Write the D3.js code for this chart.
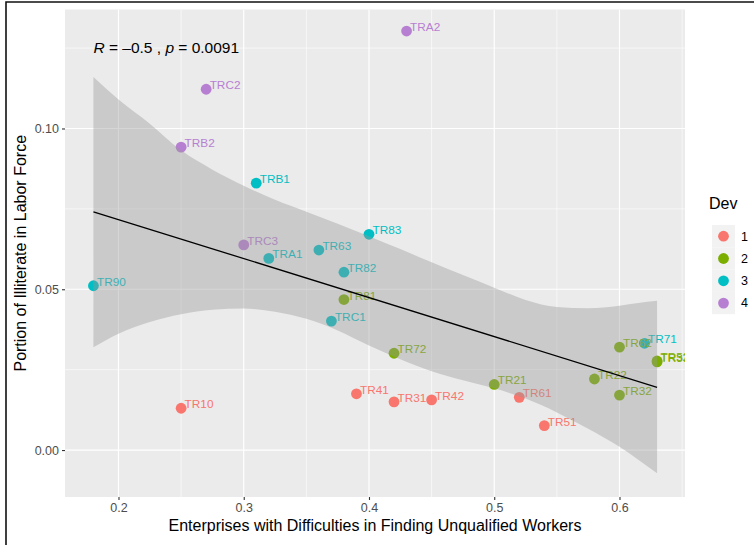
<!DOCTYPE html>
<html>
<head>
<meta charset="utf-8">
<script src="https://cdn.jsdelivr.net/npm/d3@7"></script>
<style>
  body { margin: 0; background: #fff; }
  svg { display: block; font-family: "Liberation Sans", Arial, Helvetica, sans-serif; }
</style>
</head>
<body>
<svg id="chart" width="754" height="545"></svg>
<script>
// ---------------- data ----------------
const regions = ["TR10","TR21","TR22","TR31","TR32","TR33","TR41","TR42","TR51","TR52","TR61","TR62","TR63",
                 "TR71","TR72","TR81","TR82","TR83","TR90","TRA1","TRA2","TRB1","TRB2","TRC1","TRC2","TRC3"];
const enterprisesDifficulty = [0.25,0.50,0.58,0.42,0.60,0.63,0.39,0.45,0.54,0.63,0.52,0.60,0.36,
                               0.62,0.42,0.38,0.38,0.40,0.18,0.32,0.43,0.31,0.25,0.37,0.27,0.30];
const illiterateShare = [0.0130,0.0204,0.0221,0.0150,0.0171,0.0274,0.0175,0.0156,0.0076,0.0277,0.0164,0.0320,0.0622,
                         0.0332,0.0301,0.0468,0.0553,0.0671,0.0511,0.0596,0.1303,0.0830,0.0942,0.0401,0.1122,0.0638];
const devGroup = ["1","2","2","1","2","2","1","1","1","2","1","2","3",
                  "3","2","2","3","3","3","3","4","3","4","3","4","4"];
const devLevels = ["1","2","3","4"];
const devColors = ["#F8766D","#7CAE00","#00BFC4","#B77FD2"];

const xTicks = [0.2,0.3,0.4,0.5,0.6];
const xMinorTicks = [0.25,0.35,0.45,0.55,0.65];
const yTicks = [0.00,0.05,0.10];
const yMinorTicks = [0.025,0.075,0.125];

// fitted regression line and its confidence band
const fitX = [0.18, 0.63];
const fitY = [0.0741, 0.0195];
const bandX     = [0.18, 0.20, 0.225, 0.25, 0.275, 0.30, 0.325, 0.35, 0.375, 0.40, 0.425, 0.45, 0.475, 0.50, 0.525, 0.55, 0.575, 0.60, 0.615, 0.63];
const bandUpper = [0.116, 0.1090, 0.1015, 0.0932, 0.0872, 0.0822, 0.0778, 0.0741, 0.0704, 0.0665, 0.0625, 0.0584, 0.0544, 0.0505, 0.0467, 0.0445, 0.0441, 0.0449, 0.0457, 0.0464];
const bandLower = [0.032, 0.0362, 0.0398, 0.0422, 0.0436, 0.0440, 0.0430, 0.0408, 0.0372, 0.0325, 0.0282, 0.0245, 0.0217, 0.0192, 0.0160, 0.0117, 0.0066, 0.0010, -0.0030, -0.0072];

const corLabel = { r: "\u20130.5", p: "0.0091", x: 0.18, y: 0.1252 };

const xTitle = "Enterprises with Difficulties in Finding Unqualified Workers";
const yTitle = "Portion of Illiterate in Labor Force";
const legendTitle = "Dev";

// ---------------- drawing ----------------
const svg = d3.select("#chart");
const panel = { left: 65, right: 685, top: 9.5, bottom: 497 };

const x = d3.scaleLinear().domain([0.1573, 0.6523]).range([panel.left, panel.right]);
const y = d3.scaleLinear().domain([-0.0146, 0.137]).range([panel.bottom, panel.top]);
const color = d3.scaleOrdinal().domain(devLevels).range(devColors);

svg.append("rect").attr("width", 754).attr("height", 545).attr("fill", "#fff");

// frame of the screenshot
svg.append("path").attr("d", "M6,545 V2 H754")
  .attr("fill", "none").attr("stroke", "#111").attr("stroke-width", 1.6);

svg.append("defs").append("clipPath").attr("id", "clip")
  .append("rect").attr("x", panel.left).attr("y", panel.top)
  .attr("width", panel.right - panel.left).attr("height", panel.bottom - panel.top);

svg.append("rect").attr("x", panel.left).attr("y", panel.top)
  .attr("width", panel.right - panel.left).attr("height", panel.bottom - panel.top)
  .attr("fill", "#EBEBEB");

const grid = svg.append("g").attr("clip-path", "url(#clip)");
grid.selectAll(".xmin").data(xMinorTicks).join("line")
  .attr("x1", d => x(d)).attr("x2", d => x(d)).attr("y1", panel.top).attr("y2", panel.bottom)
  .attr("stroke", "#fff").attr("stroke-width", 0.6);
grid.selectAll(".ymin").data(yMinorTicks).join("line")
  .attr("y1", d => y(d)).attr("y2", d => y(d)).attr("x1", panel.left).attr("x2", panel.right)
  .attr("stroke", "#fff").attr("stroke-width", 0.6);
grid.selectAll(".xmaj").data(xTicks).join("line")
  .attr("x1", d => x(d)).attr("x2", d => x(d)).attr("y1", panel.top).attr("y2", panel.bottom)
  .attr("stroke", "#fff").attr("stroke-width", 1.2);
grid.selectAll(".ymaj").data(yTicks).join("line")
  .attr("y1", d => y(d)).attr("y2", d => y(d)).attr("x1", panel.left).attr("x2", panel.right)
  .attr("stroke", "#fff").attr("stroke-width", 1.2);

// points and labels
const pts = regions.map((r, i) => ({ r, x: enterprisesDifficulty[i], y: illiterateShare[i], g: devGroup[i] }));
const plot = svg.append("g").attr("clip-path", "url(#clip)");
plot.selectAll("circle").data(pts).join("circle")
  .attr("cx", d => x(d.x)).attr("cy", d => y(d.y)).attr("r", 5.4)
  .attr("fill", d => color(d.g));
plot.selectAll("text").data(pts).join("text")
  .attr("x", d => x(d.x) + 3.5).attr("y", d => y(d.y))
  .attr("fill", d => color(d.g)).attr("font-size", 11.8)
  .text(d => d.r);

// smoothing band and fitted line (drawn over points, as in the original)
const band = bandX.map((v, i) => ({ x: v, lo: bandLower[i], hi: bandUpper[i] }));
plot.append("path").datum(band)
  .attr("d", d3.area().x(d => x(d.x)).y0(d => y(d.lo)).y1(d => y(d.hi)).curve(d3.curveMonotoneX))
  .attr("fill", "#999999").attr("fill-opacity", 0.4);
plot.append("path").datum(fitX.map((v, i) => [v, fitY[i]]))
  .attr("d", d3.line().x(d => x(d[0])).y(d => y(d[1])))
  .attr("stroke", "#000").attr("stroke-width", 1.3).attr("fill", "none");

// correlation annotation
const ann = svg.append("text").attr("x", x(corLabel.x)).attr("y", y(corLabel.y) + 5.5)
  .attr("font-size", 15.5).attr("fill", "#000");
ann.append("tspan").attr("font-style", "italic").text("R");
ann.append("tspan").text(" = " + corLabel.r + " , ");
ann.append("tspan").attr("font-style", "italic").text("p");
ann.append("tspan").text(" = " + corLabel.p);

// axes
const xAxis = svg.append("g").attr("transform", `translate(0,${panel.bottom})`)
  .call(d3.axisBottom(x).tickValues(xTicks).tickSize(3).tickPadding(3).tickFormat(d3.format(".1f")));
const yAxis = svg.append("g").attr("transform", `translate(${panel.left},0)`)
  .call(d3.axisLeft(y).tickValues(yTicks).tickSize(3).tickPadding(3).tickFormat(d3.format(".2f")));
[xAxis, yAxis].forEach(a => {
  a.select(".domain").remove();
  a.selectAll(".tick line").attr("stroke", "#333").attr("stroke-width", 1.1);
  a.selectAll(".tick text").attr("fill", "#4D4D4D").attr("font-size", 12.5)
    .attr("font-family", '"Liberation Sans", Arial, sans-serif');
});

svg.append("text").attr("x", (panel.left + panel.right) / 2).attr("y", 531)
  .attr("text-anchor", "middle").attr("font-size", 16).attr("fill", "#000").text(xTitle);
svg.append("text").attr("transform", `translate(26,${(panel.top + panel.bottom) / 2}) rotate(-90)`)
  .attr("text-anchor", "middle").attr("font-size", 16).attr("fill", "#000").text(yTitle);

// legend
const lg = svg.append("g");
lg.append("text").attr("x", 709).attr("y", 208.5).attr("font-size", 16).attr("fill", "#000").text(legendTitle);
const items = lg.selectAll("g.item").data(devLevels).join("g")
  .attr("transform", (d, i) => `translate(712,${225 + i * 22.3})`);
items.append("rect").attr("width", 23).attr("height", 22.3).attr("fill", "#F2F2F2");
items.append("circle").attr("cx", 11.5).attr("cy", 11.2).attr("r", 5.4).attr("fill", d => color(d));
items.append("text").attr("x", 29).attr("y", 15.5).attr("font-size", 12.5).attr("fill", "#000").text(d => d);
</script>
</body>
</html>
